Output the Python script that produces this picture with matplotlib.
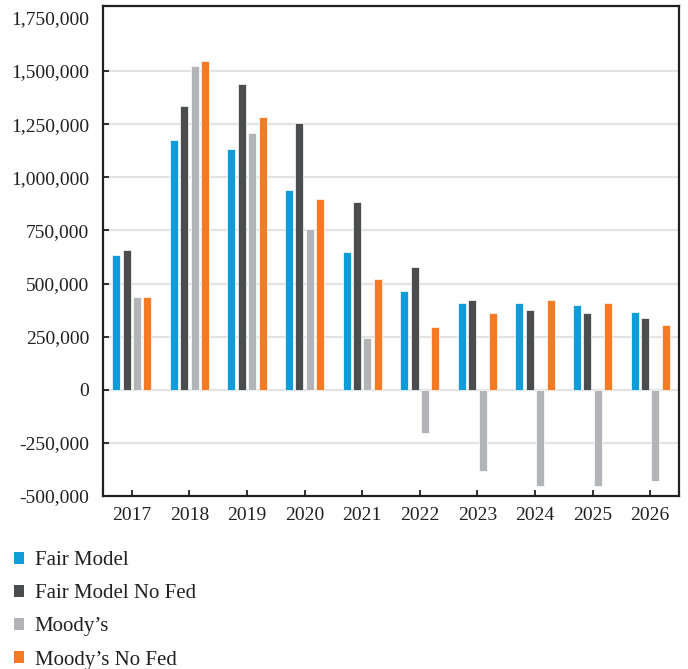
import matplotlib
matplotlib.use("Agg")
import matplotlib.pyplot as plt
from matplotlib.patches import Patch
from matplotlib.ticker import FuncFormatter
import numpy as np

plt.rcParams['font.family'] = ['Liberation Serif', 'DejaVu Serif']

years = ['2017', '2018', '2019', '2020', '2021', '2022', '2023', '2024', '2025', '2026']
series_names = ['Fair Model', 'Fair Model No Fed', 'Moody\u2019s', 'Moody\u2019s No Fed']
fair_model = [635000, 1174000, 1135000, 939000, 648000, 465000, 409000, 409000, 399000, 368000]
fair_model_no_fed = [659000, 1336000, 1439000, 1255000, 885000, 578000, 424000, 376000, 359000, 337000]
moodys = [435000, 1524000, 1208000, 755000, 242000, -204000, -381000, -452000, -452000, -430000]
moodys_no_fed = [435000, 1547000, 1283000, 900000, 519000, 296000, 363000, 424000, 409000, 306000]
colors = ['#0E9DD9', '#4B4C4E', '#B3B4B7', '#F47A24']
yticks = [-500000, -250000, 0, 250000, 500000, 750000, 1000000, 1250000, 1500000, 1750000]

fig = plt.figure(figsize=(6.88, 6.69), dpi=100)
ax = fig.add_axes([103/688, 1-496/669, (679-103)/688, (496-6)/669])

x = np.arange(len(years))
data = [fair_model, fair_model_no_fed, moodys, moodys_no_fed]
w = 0.14
pitch = 0.18
for i, (vals, c) in enumerate(zip(data, colors)):
    ax.bar(x + (i - 1.5) * pitch, vals, width=w, color=c, edgecolor='white',
           linewidth=0.5, zorder=3, label=series_names[i])

for v in yticks[1:-1]:
    ax.axhline(v, color='#E3E3E3', lw=1.6, zorder=1)

ax.set_xlim(-0.5, len(years) - 0.5)
ax.set_ylim(-500000, 1806000)
ax.set_yticks(yticks)
ax.yaxis.set_major_formatter(FuncFormatter(lambda v, p: f'{int(v):,}'))
ax.set_xticks(x)
ax.set_xticklabels(years)
ax.tick_params(axis='both', direction='in', labelsize=14, color='#231F20',
               width=1.3, labelcolor='#231F20')
ax.tick_params(axis='x', length=4, pad=8)
ax.tick_params(axis='y', length=4, pad=10)
ax.yaxis.get_major_ticks()[-1].tick1line.set_visible(False)
for s in ax.spines.values():
    s.set_linewidth(1.6)
    s.set_color('#231F20')

handles = [Patch(facecolor=c, edgecolor='none') for c in colors]
fig.legend(handles, series_names, loc='upper left', bbox_to_anchor=(14/688, 1-551/669),
           frameon=False, fontsize=15, handlelength=0.5, handleheight=0.5,
           handletextpad=0.5, labelspacing=0.68, borderpad=0, borderaxespad=0,
           labelcolor='#231F20')

fig.savefig('out.png', dpi=100)
